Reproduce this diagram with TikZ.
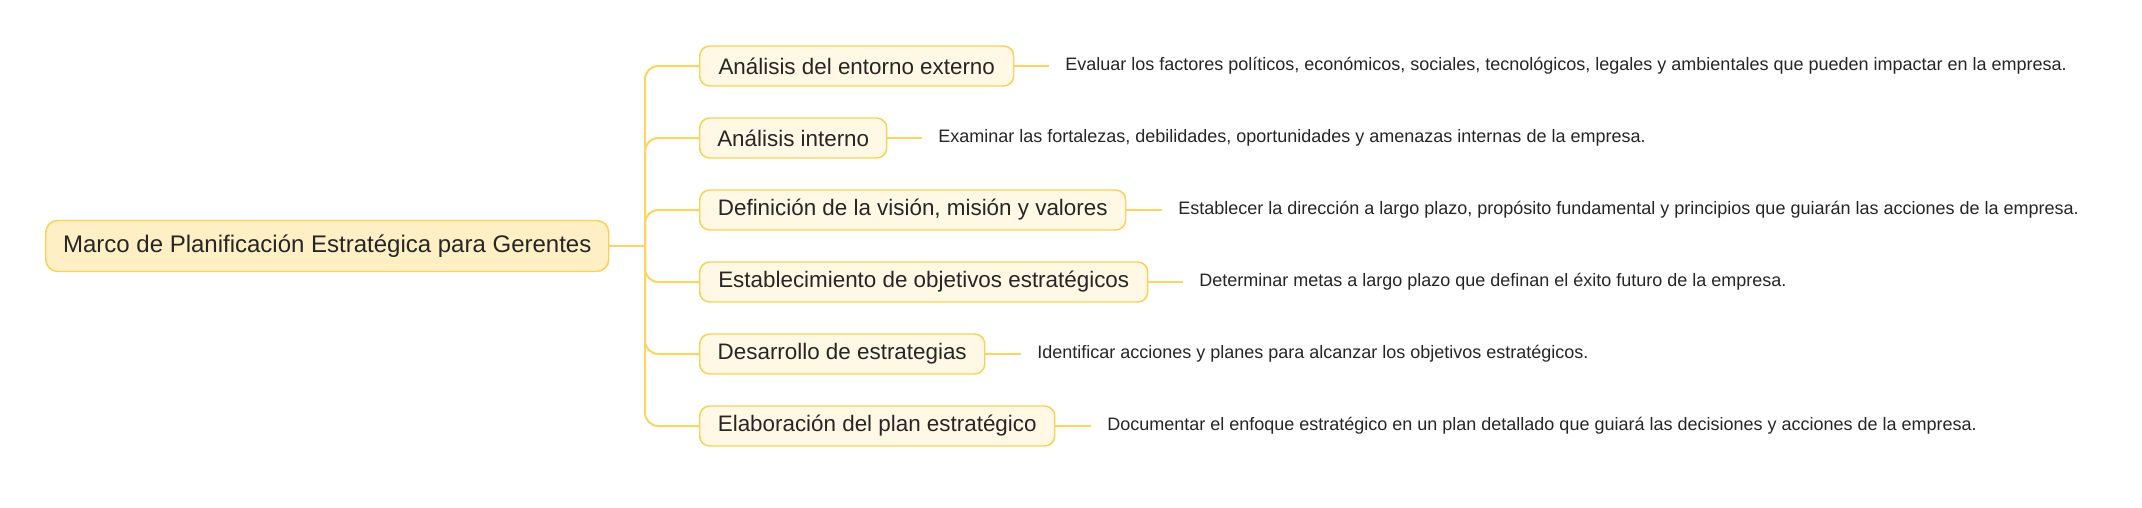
\documentclass[tikz,border=0pt]{standalone}
\usepackage{fontspec}
\setmainfont{Liberation Sans}
\definecolor{gold}{HTML}{F9D154}
\definecolor{linec}{HTML}{FAD564}
\definecolor{rootfill}{HTML}{FEEFC4}
\definecolor{childfill}{HTML}{FFF8E4}
\definecolor{txt}{HTML}{262626}
\begin{document}
\begin{tikzpicture}[x=0.75pt,y=-0.75pt]
\tikzset{
 rootbox/.style={draw=gold, fill=rootfill, line width=1.1pt, rounded corners=9pt, minimum height=38.25pt, minimum width=422.25pt, inner xsep=0pt, font=\fontsize{18}{22}\selectfont, text=txt, anchor=west},
 childbox/.style={draw=gold, fill=childfill, line width=1.1pt, rounded corners=7.5pt, minimum height=30pt, inner xsep=0pt, font=\fontsize{16.8}{20}\selectfont, text=txt, anchor=west},
 desc/.style={anchor=west, inner xsep=12pt, inner ysep=0pt, font=\fontsize{13.5}{16}\selectfont, text=txt},
 link/.style={draw=linec, line width=1.5pt},
}
\useasboundingbox (0,0) rectangle (2142,507);
\fill[white] (0,0) rectangle (2142,507);

\node[rootbox] (root) at (45,246) {Marco de Planificación Estratégica para Gerentes};

\node[childbox, minimum width=235.5pt] (c1) at (699,66) {Análisis del entorno externo};
\node[childbox, minimum width=140.25pt] (c2) at (699,138) {Análisis interno};
\node[childbox, minimum width=319.5pt] (c3) at (699,210) {Definición de la visión, misión y valores};
\node[childbox, minimum width=336pt] (c4) at (699,282) {Establecimiento de objetivos estratégicos};
\node[childbox, minimum width=213.75pt] (c5) at (699,354) {Desarrollo de estrategias};
\node[childbox, minimum width=266.25pt] (c6) at (699,426) {Elaboración del plan estratégico};

\node[desc] (d1) at (1049,66) {Evaluar los factores políticos, económicos, sociales, tecnológicos, legales y ambientales que pueden impactar en la empresa.};
\node[desc] (d2) at (922,138) {Examinar las fortalezas, debilidades, oportunidades y amenazas internas de la empresa.};
\node[desc] (d3) at (1162,210) {Establecer la dirección a largo plazo, propósito fundamental y principios que guiarán las acciones de la empresa.};
\node[desc] (d4) at (1183,282) {Determinar metas a largo plazo que definan el éxito futuro de la empresa.};
\node[desc] (d5) at (1021,354) {Identificar acciones y planes para alcanzar los objetivos estratégicos.};
\node[desc] (d6) at (1091,426) {Documentar el enfoque estratégico en un plan detallado que guiará las decisiones y acciones de la empresa.};

\coordinate (tr) at (645,246);
\draw[link] (root.east) -- (tr);
\foreach \i in {1,...,6}{
  \draw[link, rounded corners=10pt] (tr) |- (c\i.west);
  \draw[link] (c\i.east) -- (d\i.west);
}
\end{tikzpicture}
\end{document}
